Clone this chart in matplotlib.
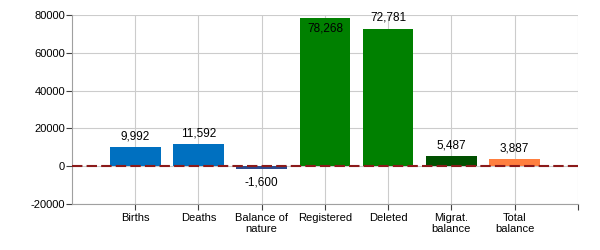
import matplotlib
matplotlib.use('Agg')
import matplotlib.pyplot as plt

categories = ['Births', 'Deaths', 'Balance of\nnature', 'Registered', 'Deleted',
              'Migrat.\nbalance', 'Total\nbalance']
values = [9992, 11592, -1600, 78268, 72781, 5487, 3887]
colors = ['#0070c0', '#0070c0', '#2e4a8c', '#008000', '#008000', '#005000', '#ff7f3f']
yticks = [-20000, 0, 20000, 40000, 60000, 80000]

plt.rcParams['font.family'] = ['Liberation Sans', 'DejaVu Sans']
plt.rcParams['axes.unicode_minus'] = False

fig = plt.figure(figsize=(6, 2.5), dpi=100)
ax = fig.add_axes([0.12, 0.184, 0.843, 0.756])

x = list(range(len(categories)))
ax.bar(x, values, width=0.8, color=colors, zorder=3)
ax.axhline(0, color='#8b1a1a', linestyle='--', linewidth=1.5, dashes=(5, 2), zorder=4)

ymin, ymax = yticks[0], yticks[-1]
for xi, v in zip(x, values):
    if v > ymax - 5000:
        # label would go off the top: put it inside the bar
        ax.text(xi, ymax - 4000, f'{v:,}', ha='center', va='top', fontsize=8.5, zorder=5)
    elif v >= 0:
        ax.text(xi, v + 2500, f'{v:,}', ha='center', va='bottom', fontsize=8.5, zorder=5)
    else:
        ax.text(xi, v - 3800, f'{v:,}', ha='center', va='top', fontsize=8.5, zorder=5)

ax.set_xlim(-1, len(categories))
ax.set_ylim(ymin, ymax)
ax.set_yticks(yticks)
ax.set_xticks(x + [len(categories)])
ax.set_xticklabels(categories + [''], fontsize=8, linespacing=1.15)
ax.tick_params(axis='y', labelsize=8, length=4, color='#404040', pad=1)
ax.tick_params(axis='x', length=4, color='#404040', pad=2.5)
ax.grid(True, color='#cccccc', linewidth=0.8, zorder=0)

for s in ['top', 'right']:
    ax.spines[s].set_visible(False)
for s in ['left', 'bottom']:
    ax.spines[s].set_color('#a0a0a0')

fig.savefig('out.png', dpi=100)
